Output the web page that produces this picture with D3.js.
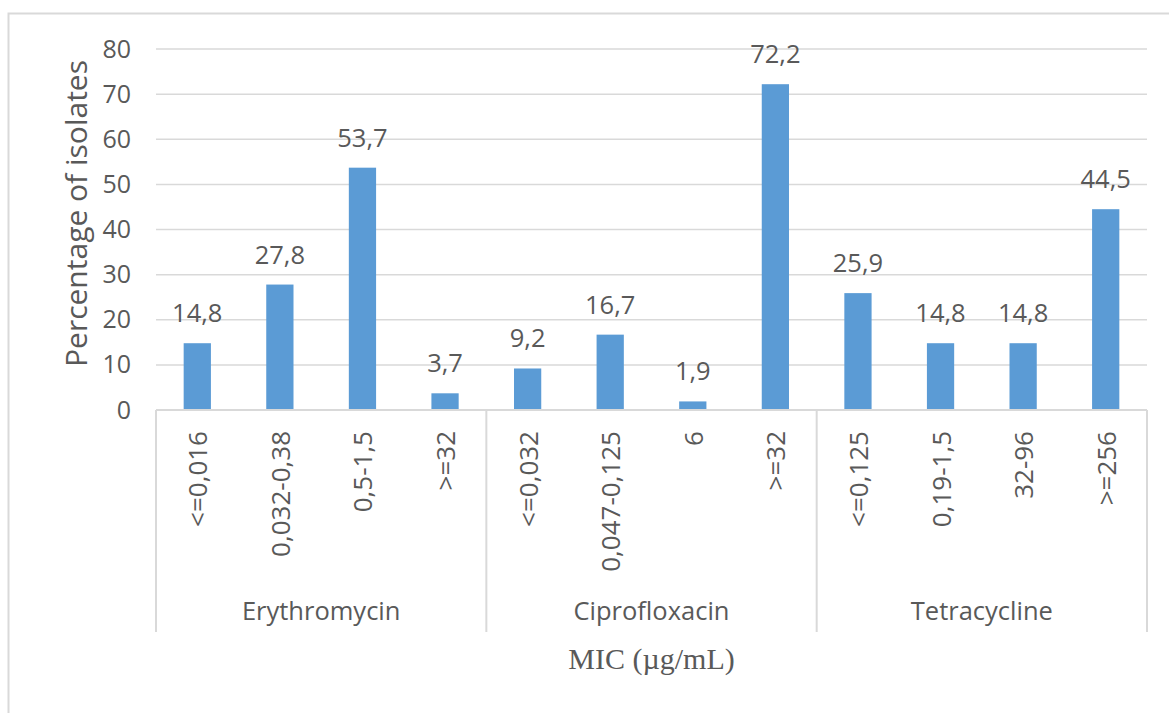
<!DOCTYPE html>
<html>
<head>
<meta charset="utf-8">
<script src="https://cdn.jsdelivr.net/npm/d3@7"></script>
<style>
  body { margin: 0; background: #fff; }
  text { font-family: "Open Sans", sans-serif; fill: #595959; }
</style>
</head>
<body>
<svg width="1169" height="713"></svg>
<script>

// drug groups and their MIC ranges
var groups = ["Erythromycin", "Ciprofloxacin", "Tetracycline"];
var ranges = [
  ["<=0,016", "0,032-0,38", "0,5-1,5", ">=32"],
  ["<=0,032", "0,047-0,125", "6", ">=32"],
  ["<=0,125", "0,19-1,5", "32-96", ">=256"]
];
var values = [
  [14.8, 27.8, 53.7, 3.7],
  [9.2, 16.7, 1.9, 72.2],
  [25.9, 14.8, 14.8, 44.5]
];
var yTicks = [0, 10, 20, 30, 40, 50, 60, 70, 80];

var svg = d3.select("svg");

var mLeft = 156, mRight = 1147, mTop = 49, mBottom = 410;

// flat list of bars
var bars = [];
groups.forEach(function(g, i)
{
  ranges[i].forEach(function(r, j)
  {
    bars.push({group: g, range: r, value: values[i][j], key: g + "|" + r});
  });
});

var x = d3.scaleBand()
  .domain(bars.map(function(d) { return d.key; }))
  .range([mLeft, mRight])
  .paddingInner(0.67)
  .paddingOuter(0.335);

var y = d3.scaleLinear()
  .domain([0, 80])
  .range([mBottom, mTop]);

// outer chart border (only top / left visible)
svg.append("rect")
  .attr("x", 8.5).attr("y", 13.5)
  .attr("width", 1200).attr("height", 760)
  .attr("fill", "none")
  .attr("stroke", "#d9d9d9")
  .attr("stroke-width", 2);

// gridlines
svg.append("g")
  .selectAll("line")
  .data(yTicks.slice(1))
  .enter()
  .append("line")
  .attr("x1", mLeft).attr("x2", mRight)
  .attr("y1", function(d) { return y(d); })
  .attr("y2", function(d) { return y(d); })
  .attr("stroke", "#d9d9d9")
  .attr("stroke-width", 1.5);

// y tick labels
svg.append("g")
  .selectAll("text")
  .data(yTicks)
  .enter()
  .append("text")
  .attr("x", 131)
  .attr("y", function(d) { return y(d) + 8.5; })
  .attr("text-anchor", "end")
  .style("font-size", "25px")
  .text(function(d) { return d; });

// bars
svg.append("g")
  .selectAll("rect")
  .data(bars)
  .enter()
  .append("rect")
  .attr("x", function(d) { return x(d.key); })
  .attr("y", function(d) { return y(d.value); })
  .attr("width", x.bandwidth())
  .attr("height", function(d) { return mBottom - y(d.value); })
  .attr("fill", "#5b9bd5");

// value labels
svg.append("g")
  .selectAll("text")
  .data(bars)
  .enter()
  .append("text")
  .attr("x", function(d) { return x(d.key) + x.bandwidth() / 2; })
  .attr("y", function(d) { return y(d.value) - 21; })
  .attr("text-anchor", "middle")
  .style("font-size", "25.5px")
  .text(function(d) { return d3.format(".1f")(d.value).replace(".", ","); });

// axis baseline and group dividers
var groupW = (mRight - mLeft) / groups.length;
svg.append("line")
  .attr("x1", mLeft).attr("x2", mRight)
  .attr("y1", mBottom).attr("y2", mBottom)
  .attr("stroke", "#d9d9d9").attr("stroke-width", 2);

svg.append("g")
  .selectAll("line")
  .data(d3.range(groups.length + 1))
  .enter()
  .append("line")
  .attr("x1", function(i) { return mLeft + i * groupW; })
  .attr("x2", function(i) { return mLeft + i * groupW; })
  .attr("y1", mBottom).attr("y2", 632)
  .attr("stroke", "#d9d9d9").attr("stroke-width", 2);

// category labels, rotated
svg.append("g")
  .selectAll("text")
  .data(bars)
  .enter()
  .append("text")
  .attr("transform", function(d)
  {
    return "translate(" + (x(d.key) + x.bandwidth() / 2 + 10) + ",431) rotate(-90)";
  })
  .attr("text-anchor", "end")
  .style("font-size", "26px")
  .text(function(d) { return d.range; });

// group labels
svg.append("g")
  .selectAll("text")
  .data(groups)
  .enter()
  .append("text")
  .attr("x", function(d, i) { return mLeft + (i + 0.5) * groupW; })
  .attr("y", 620)
  .attr("text-anchor", "middle")
  .style("font-size", "25.5px")
  .text(function(d) { return d; });

// axis titles
svg.append("text")
  .attr("x", (mLeft + mRight) / 2)
  .attr("y", 669)
  .attr("text-anchor", "middle")
  .style("font-family", "'Liberation Serif', 'Times New Roman', serif")
  .style("font-size", "30px")
  .text("MIC (µg/mL)");

svg.append("text")
  .attr("transform", "translate(87," + ((mTop + mBottom) / 2 - 16) + ") rotate(-90)")
  .attr("text-anchor", "middle")
  .style("font-size", "30px")
  .text("Percentage of isolates");

</script>
</body>
</html>
